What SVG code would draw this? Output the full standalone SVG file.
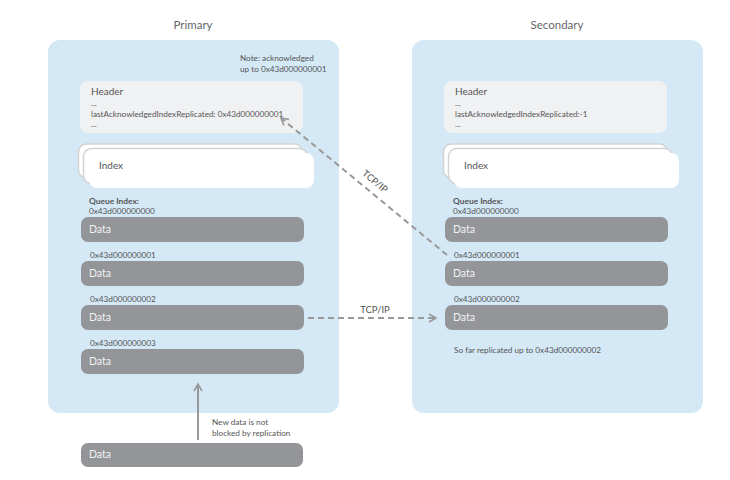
<svg xmlns="http://www.w3.org/2000/svg" width="730" height="480" viewBox="0 0 730 480">
<defs>
<style>
text{font-family:"Lato","Open Sans","Liberation Sans",sans-serif;fill:#555;}
.title{font-size:11.5px;fill:#666;text-anchor:middle;}
.panel{fill:#d4e8f5;}
.hdr{fill:#f0f1f3;}
.card{fill:#fff;stroke:#d2d3d5;stroke-width:1.5;}
.front{fill:#fff;}
.data{fill:#939598;}
.dt{font-size:10.5px;fill:#f2f2f2;}
.sm{font-size:8.2px;fill:#555;}
.hd{font-size:10px;fill:#555;}
.bold{font-size:8.4px;font-weight:bold;fill:#555;}
.dash{fill:none;stroke:#999;stroke-width:2;stroke-dasharray:6 4;}
.solid{fill:none;stroke:#999;stroke-width:2;}
.lbl{font-size:9.5px;fill:#555;}
</style>
<marker id="ah" viewBox="0 0 10 10" refX="8" refY="5" markerWidth="5" markerHeight="5" orient="auto" markerUnits="strokeWidth">
<path d="M1,1 L8,5 L1,9" fill="none" stroke="#999" stroke-width="1.6"/>
</marker>
</defs>
<rect width="730" height="480" fill="#fff"/>

<g id="primary">
<text class="title" x="193" y="29">Primary</text>
<rect class="panel" x="48" y="40" width="291" height="373" rx="12"/>
<text class="sm" x="240" y="61">Note: acknowledged</text>
<text class="sm" x="240" y="72">up to 0x43d000000001</text>
<g id="p-header">
<rect class="hdr" x="80" y="81" width="223" height="52" rx="8"/>
<text class="hd" x="91" y="95">Header</text>
<text class="sm" x="91" y="106">...</text>
<text class="sm" x="91" y="117">lastAcknowledgedIndexReplicated: 0x43d000000001</text>
<text class="sm" x="91" y="127">...</text>
</g>
<g id="p-index">
<rect class="card" x="78.5" y="144" width="224" height="34" rx="8"/>
<rect class="card" x="83.5" y="148.5" width="224" height="35" rx="8"/>
<rect class="front" x="89" y="153" width="225" height="35" rx="8"/>
<text class="hd" x="99" y="169">Index</text>
</g>
<text class="bold" x="89" y="204">Queue Index:</text>
<text class="sm" x="89" y="214">0x43d000000000</text>
<g id="p-data0"><rect class="data" x="81" y="217" width="223" height="25" rx="7"/><text class="dt" x="89" y="233">Data</text></g>
<text class="sm" x="90" y="258">0x43d000000001</text>
<g id="p-data1"><rect class="data" x="81" y="261" width="223" height="25" rx="7"/><text class="dt" x="89" y="277">Data</text></g>
<text class="sm" x="90" y="302">0x43d000000002</text>
<g id="p-data2"><rect class="data" x="81" y="305" width="223" height="25" rx="7"/><text class="dt" x="89" y="321">Data</text></g>
<text class="sm" x="90" y="346">0x43d000000003</text>
<g id="p-data3"><rect class="data" x="81" y="349" width="223" height="25" rx="7"/><text class="dt" x="89" y="365">Data</text></g>
</g>

<g id="secondary">
<text class="title" x="557" y="29">Secondary</text>
<rect class="panel" x="412" y="40" width="291" height="373" rx="12"/>
<g id="s-header">
<rect class="hdr" x="444" y="81" width="223" height="52" rx="8"/>
<text class="hd" x="455" y="95">Header</text>
<text class="sm" x="455" y="106">...</text>
<text class="sm" x="455" y="117">lastAcknowledgedIndexReplicated:-1</text>
<text class="sm" x="455" y="127">...</text>
</g>
<g id="s-index">
<rect class="card" x="443.5" y="144" width="224" height="34" rx="8"/>
<rect class="card" x="448.5" y="148.5" width="224" height="35" rx="8"/>
<rect class="front" x="454" y="153" width="225" height="35" rx="8"/>
<text class="hd" x="464" y="169">Index</text>
</g>
<text class="bold" x="453" y="204">Queue Index:</text>
<text class="sm" x="453" y="214">0x43d000000000</text>
<g id="s-data0"><rect class="data" x="445" y="217" width="223" height="25" rx="7"/><text class="dt" x="453" y="233">Data</text></g>
<text class="sm" x="454" y="258">0x43d000000001</text>
<g id="s-data1"><rect class="data" x="445" y="261" width="223" height="25" rx="7"/><text class="dt" x="453" y="277">Data</text></g>
<text class="sm" x="454" y="302">0x43d000000002</text>
<g id="s-data2"><rect class="data" x="445" y="305" width="223" height="25" rx="7"/><text class="dt" x="453" y="321">Data</text></g>
<text class="sm" x="454" y="353">So far replicated up to 0x43d000000002</text>
</g>

<g id="new-data">
<rect class="data" x="81" y="443" width="222" height="24" rx="7"/>
<text class="dt" x="89" y="458">Data</text>
</g>

<g id="connectors">
<line class="dash" x1="308" y1="318" x2="436" y2="318" marker-end="url(#ah)"/>
<text class="lbl" x="375" y="313" text-anchor="middle">TCP/IP</text>
<line class="dash" x1="447" y1="255" x2="281" y2="118" marker-end="url(#ah)"/>
<text class="lbl" x="0" y="0" text-anchor="middle" transform="translate(373,184) rotate(39.5)">TCP/IP</text>
<line class="solid" x1="198" y1="440" x2="198" y2="384" marker-end="url(#ah)"/>
<text class="sm" x="212" y="425">New data is not</text>
<text class="sm" x="212" y="436">blocked by replication</text>
</g>
</svg>
